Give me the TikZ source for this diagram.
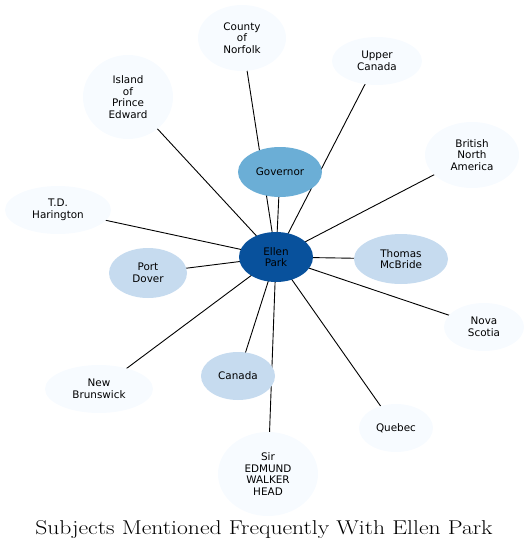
\documentclass[tikz,border=0pt]{standalone}
\usepackage{fontspec}
\setsansfont{DejaVu Sans}
\newfontfamily\titlefont[FakeStretch=1.18]{Latin Modern Roman}
\usetikzlibrary{shapes.geometric}
\pgfdeclarelayer{bg}
\pgfsetlayers{bg,main}
\definecolor{c1}{HTML}{F7FBFF}
\definecolor{c2}{HTML}{C6DBEF}
\definecolor{c3}{HTML}{6BAED6}
\definecolor{c4}{HTML}{08519C}
\tikzset{
  ent/.style={ellipse, inner sep=0pt, align=center, font=\sffamily\fontsize{10.4}{11.5}\selectfont, text=black},
  lvl1/.style={ent, fill=c1},
  lvl2/.style={ent, fill=c2},
  lvl3/.style={ent, fill=c3},
  lvl4/.style={ent, fill=c4},
  link/.style={draw=black, line width=0.9pt},
}
\begin{document}
\begin{tikzpicture}[x=1pt,y=-1pt]
\useasboundingbox (0,0) rectangle (530,552);
\node[lvl4, minimum width=74, minimum height=50] (ep) at (276,257) {Ellen\\Park};
\node[lvl3, minimum width=84, minimum height=50] (gov) at (280,172) {Governor};
\node[lvl1, minimum width=88, minimum height=66] (cn) at (242,38) {County\\of\\Norfolk};
\node[lvl1, minimum width=90, minimum height=48] (uc) at (377,61) {Upper\\Canada};
\node[lvl1, minimum width=90, minimum height=84] (ipe) at (128,97) {Island\\of\\Prince\\Edward};
\node[lvl1, minimum width=94, minimum height=66] (bna) at (472,155) {British\\North\\America};
\node[lvl1, minimum width=106, minimum height=48] (tdh) at (58,210) {T.D.\\Harington};
\node[lvl2, minimum width=78, minimum height=50] (pd) at (148,273) {Port\\Dover};
\node[lvl2, minimum width=94, minimum height=50] (tm) at (401,259) {Thomas\\McBride};
\node[lvl1, minimum width=80, minimum height=48] (ns) at (484,327) {Nova\\Scotia};
\node[lvl1, minimum width=108, minimum height=48] (nb) at (99,389) {New\\Brunswick};
\node[lvl2, minimum width=74, minimum height=48] (ca) at (238,376) {Canada};
\node[lvl1, minimum width=74, minimum height=48] (qu) at (396,428) {Quebec};
\node[lvl1, minimum width=100, minimum height=84] (sewh) at (268,474) {Sir\\EDMUND\\WALKER\\HEAD};
\node[font=\titlefont\fontsize{20}{23}\selectfont] (title) at (264,530) {Subjects Mentioned Frequently With Ellen Park};
\begin{pgfonlayer}{bg}
\foreach \t in {gov,cn,uc,ipe,bna,tdh,pd,tm,ns,nb,ca,qu,sewh}
  \draw[link] (ep.center) -- (\t.center);
\end{pgfonlayer}
\end{tikzpicture}
\end{document}
